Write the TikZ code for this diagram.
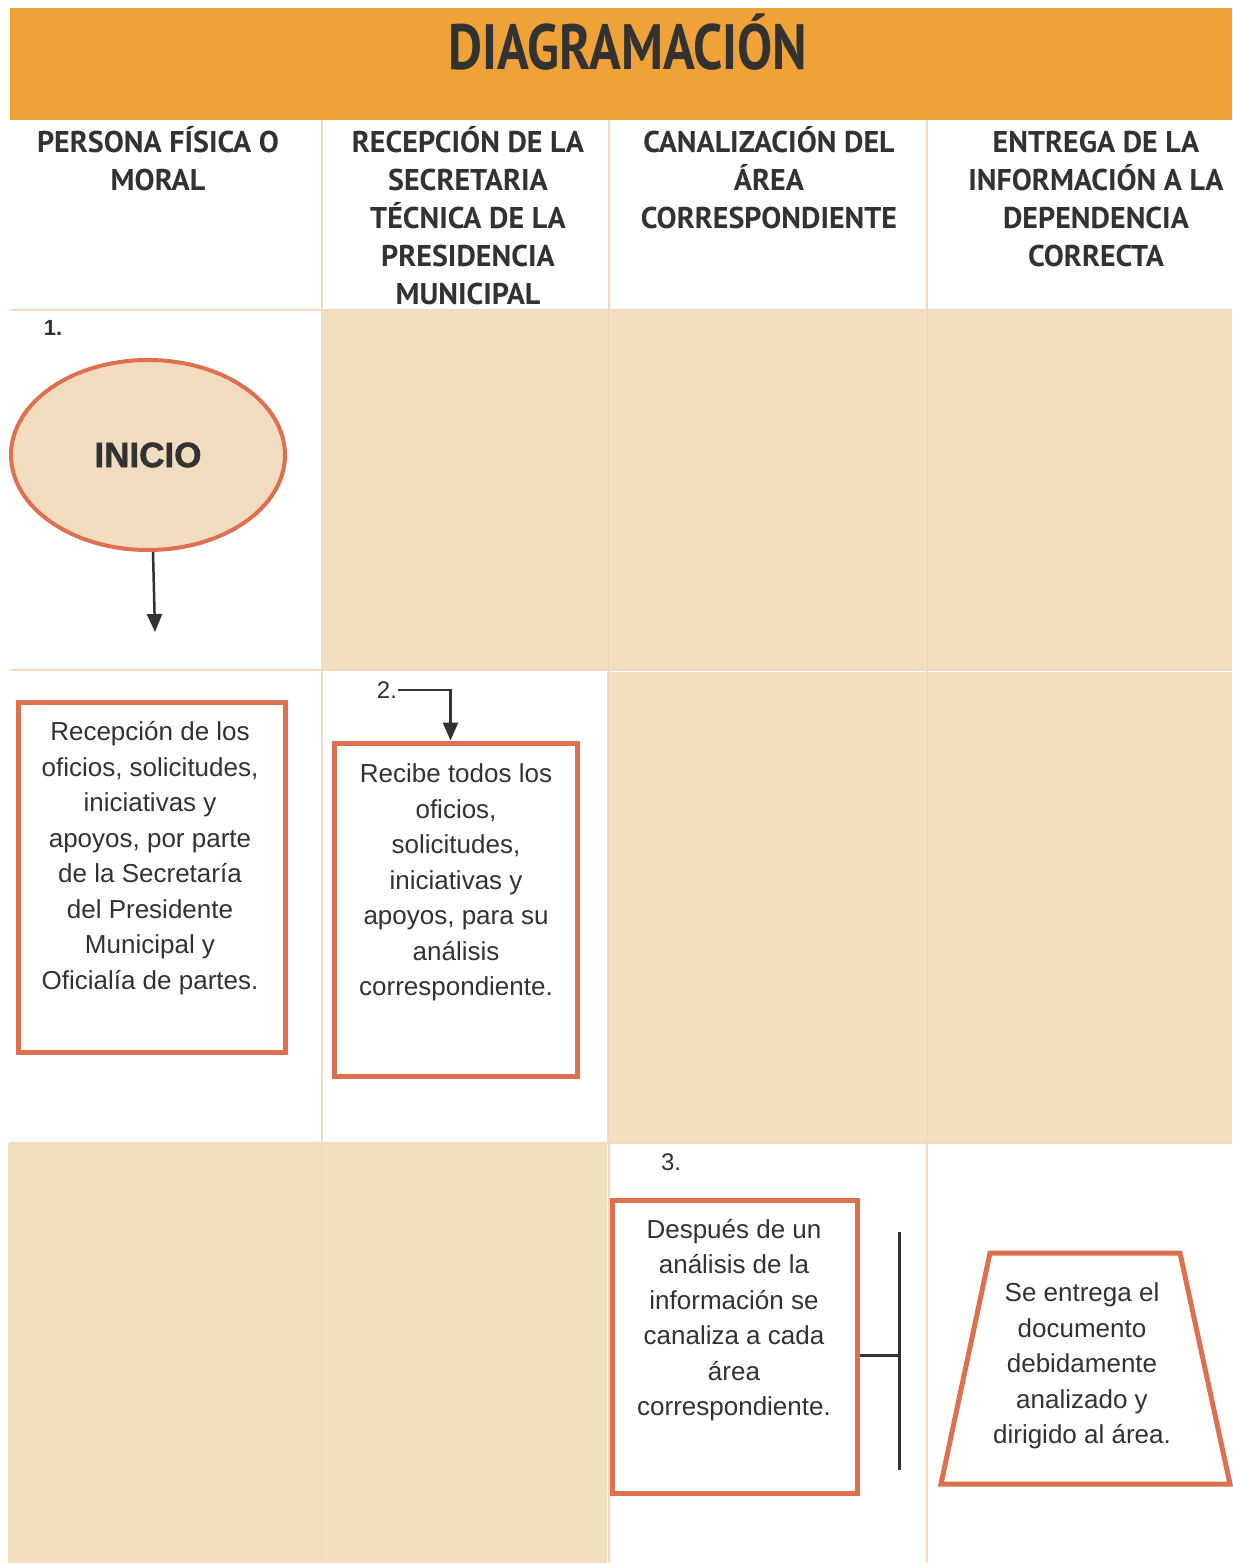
\documentclass[tikz,border=0pt]{standalone}
\usepackage{fontspec}
\setmainfont{Liberation Sans}
\newfontfamily\hdrfont[FakeStretch=1.0]{PT Sans}
\newfontfamily\titlefont[FakeStretch=0.82]{PT Sans}
\newfontfamily\blackfont[FakeBold=1.6]{Liberation Sans}
\usetikzlibrary{shapes.geometric,arrows.meta}
\definecolor{hdrorange}{RGB}{239,162,55}
\definecolor{cellbeige}{RGB}{243,224,191}
\definecolor{gridc}{RGB}{241,218,192}
\definecolor{boxred}{RGB}{222,112,80}
\definecolor{ellfill}{RGB}{242,220,192}
\definecolor{ink}{RGB}{50,50,50}
\begin{document}
\begin{tikzpicture}[x=1pt,y=-1pt,
  hdr/.style={font=\hdrfont\bfseries\fontsize{30}{38}\selectfont, text=ink, align=center, anchor=north},
  body/.style={font=\fontsize{26}{35.5}\selectfont, text=ink, align=center},
  stepbox/.style={draw=boxred, line width=5pt, fill=white, rectangle},
  arr/.style={draw=ink, line width=2.5pt, -{Triangle[length=18pt,width=15pt]}},
  gridline/.style={draw=gridc, line width=1.5pt}]
\fill[white] (0,0) rectangle (1232,1563);
\useasboundingbox (0,0) rectangle (1232,1563);
% header band
\fill[hdrorange] (10,8) rectangle (1232,120);
\node[font=\titlefont\bfseries\fontsize{64}{70}\selectfont, text=ink] (title) at (628,42) {DIAGRAMACIÓN};
% cells
\fill[cellbeige] (322,310) rectangle (1232,670);
\fill[cellbeige] (607,672) rectangle (1232,1143);
\fill[cellbeige] (8,1143) rectangle (607,1563);
% grid lines
\draw[gridline] (322,120) -- (322,1563);
\draw[gridline] (609,120) -- (609,1563);
\draw[gridline] (927,120) -- (927,1563);
\draw[gridline] (10,310) -- (1232,310);
\draw[gridline] (10,670) -- (1232,670);
\draw[gridline] (10,1143) -- (1232,1143);
% column headers
\node[hdr] (h1) at (158,123) {\vphantom{Á}PERSONA FÍSICA O\\MORAL};
\node[hdr] (h2) at (468,123) {\vphantom{Á}RECEPCIÓN DE LA\\SECRETARIA\\TÉCNICA DE LA\\PRESIDENCIA\\MUNICIPAL};
\node[hdr] (h3) at (769,123) {\vphantom{Á}CANALIZACIÓN DEL\\ÁREA\\CORRESPONDIENTE};
\node[hdr] (h4) at (1096,123) {\vphantom{Á}ENTREGA DE LA\\INFORMACIÓN A LA\\DEPENDENCIA\\CORRECTA};
% step 1
\node[font=\bfseries\fontsize{22}{26}\selectfont, text=ink] (n1) at (53,328) {1.};
\node[ellipse, draw=boxred, line width=4pt, fill=ellfill, minimum width=274pt, minimum height=190pt,
      font=\blackfont\bfseries\fontsize{35}{40}\selectfont, text=ink] (start) at (148,455) {INICIO};
\coordinate (a1end) at (155,632);
\draw[arr] ([xshift=5pt]start.south) -- (a1end);
% box 1
\node[stepbox, minimum width=267pt, minimum height=350pt] (box1) at (151.5,877) {};
\node[body] (t1) at (150,858) {Recepción de los\\oficios, solicitudes,\\iniciativas y\\apoyos, por parte\\de la Secretaría\\del Presidente\\Municipal y\\Oficialía de partes.};
% step 2
\node[body, font=\fontsize{24}{28}\selectfont] (n2) at (387,690) {2.};
\node[stepbox, minimum width=243pt, minimum height=333pt] (box2) at (455.5,909.5) {};
\node[body] (t2) at (456,882.5) {Recibe todos los\\oficios,\\solicitudes,\\iniciativas y\\apoyos, para su\\análisis\\correspondiente.};
\draw[arr] ([xshift=-3pt]n2.east) -| ([xshift=-5pt]box2.north);
% step 3
\node[body, font=\fontsize{24}{28}\selectfont] (n3) at (671,1162) {3.};
\node[stepbox, minimum width=245pt, minimum height=293pt] (box3) at (734.5,1346.5) {};
\node[body] (t3) at (734,1320) {Después de un\\análisis de la\\información se\\canaliza a cada\\área\\correspondiente.};
\coordinate (bj) at (899,1355);
\coordinate (btop) at (899,1232);
\coordinate (bbot) at (899,1470);
\draw[ink, line width=3pt] (box3.east |- bj) -- (bj);
\draw[ink, line width=3pt] (btop) -- (bbot);
% trapezoid
\coordinate (tl) at (990,1253);
\coordinate (tr) at (1180,1253);
\coordinate (br) at (1230,1484);
\coordinate (bl) at (941,1484);
\draw[draw=boxred, line width=5pt, fill=white, line join=miter] (tl) -- (tr) -- (br) -- (bl) -- cycle;
\node[body] (t4) at (1082,1366) {Se entrega el\\documento\\debidamente\\analizado y\\dirigido al área.};
\end{tikzpicture}
\end{document}
